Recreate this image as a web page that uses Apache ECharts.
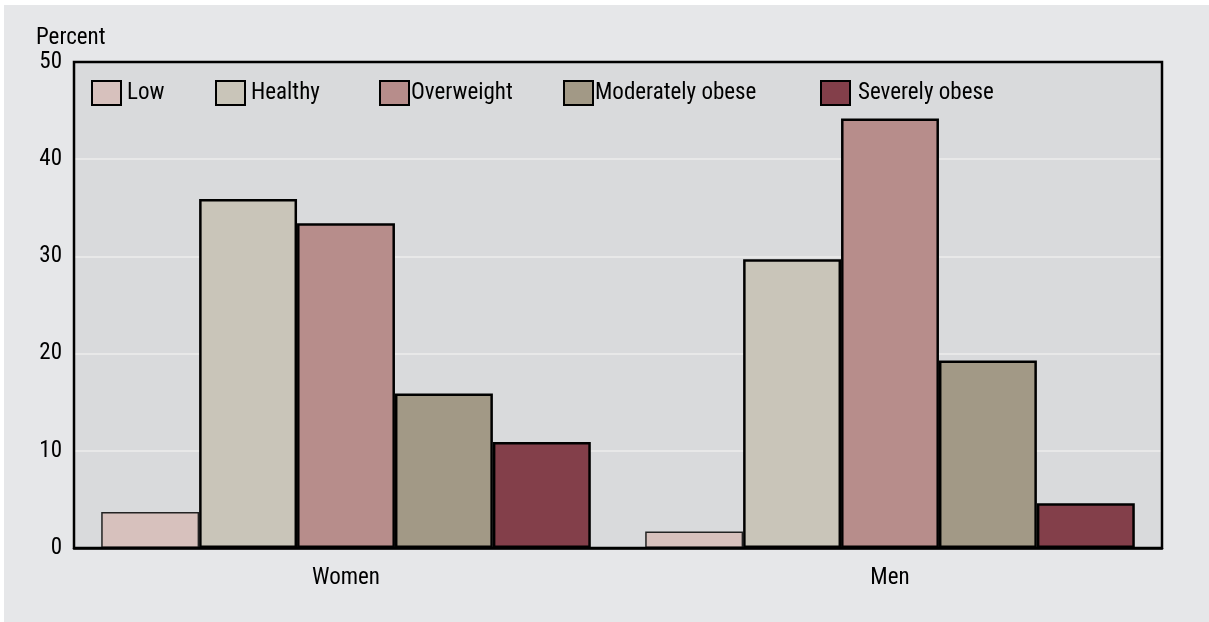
<!DOCTYPE html>
<html>
<head>
<meta charset="utf-8">
<script src="https://cdn.jsdelivr.net/npm/echarts@6/dist/echarts.min.js"></script>
<style>
html,body{margin:0;padding:0;background:#ffffff;}
#c{position:absolute;left:4px;top:5px;width:1205px;height:617px;background:#e6e7e9;}
</style>
</head>
<body>
<div id="c"></div>
<script>
const categories = ['Women', 'Men'];
const seriesNames = ['Low', 'Healthy', 'Overweight', 'Moderately obese', 'Severely obese'];
const low = [3.7, 1.7];
const healthy = [35.9, 29.7];
const overweight = [33.4, 44.2];
const moderatelyObese = [15.9, 19.3];
const severelyObese = [10.9, 4.6];
const yTicks = [0, 10, 20, 30, 40, 50];

const values = [low, healthy, overweight, moderatelyObese, severelyObese];
const colors = ['#d7c1bd', '#c9c5b9', '#b78d8b', '#a29986', '#833f4a'];
const legendLeft = [87, 211, 375, 559, 816];
const legendTextPad = [1, 1, -3, -3, 3];
const FONT = "'Liberation Sans Narrow','Roboto Condensed','Liberation Sans',sans-serif";
const G = {left: 70, right: 47, top: 57, bottom: 74};
const W = 1205, H = 617;

const chart = echarts.init(document.getElementById('c'), null, {renderer: 'canvas'});
const legends = seriesNames.map((n, i) => ({
  data: [n],
  left: legendLeft[i],
  top: 75,
  padding: 0,
  icon: 'rect',
  itemWidth: 29,
  itemHeight: 24,
  itemGap: 6,
  textStyle: {fontFamily: FONT, fontSize: 23, color: '#000', padding: [0, 0, 0, legendTextPad[i]]},
  itemStyle: {borderColor: '#000', borderWidth: 2}
}));
chart.setOption({
  backgroundColor: '#e6e7e9',
  animation: false,
  textStyle: {fontFamily: FONT},
  legend: legends,
  grid: {left: G.left, right: G.right, top: G.top, bottom: G.bottom, show: true, backgroundColor: '#d9dadc', borderColor: '#000', borderWidth: 0},
  xAxis: {
    type: 'category', data: categories,
    axisLine: {show: true, lineStyle: {color: '#000', width: 2.5}},
    axisTick: {show: false},
    axisLabel: {fontFamily: FONT, fontSize: 23, color: '#000', margin: 19}
  },
  yAxis: {
    type: 'value', min: yTicks[0], max: yTicks[yTicks.length - 1], interval: 10,
    axisLine: {show: false}, axisTick: {show: false},
    axisLabel: {fontFamily: FONT, fontSize: 23, color: '#000', margin: 12},
    splitLine: {show: true, lineStyle: {color: '#ececed', width: 1.5}}
  },
  graphic: [
    {type: 'text', left: 32, top: 22, style: {text: 'Percent', font: "23px " + FONT, fill: '#000'}},
    {type: 'rect', z: 100, silent: true,
     shape: {x: G.left, y: G.top, width: W - G.left - G.right, height: H - G.top - G.bottom},
     style: {fill: null, stroke: '#000', lineWidth: 2.5}}
  ],
  series: seriesNames.map((n, i) => ({
    name: n, type: 'bar', data: values[i],
    barGap: '0%', barCategoryGap: '10%',
    itemStyle: {color: colors[i], borderColor: i === 0 ? '#222' : '#000', borderWidth: i === 0 ? 1.5 : 2.5}
  }))
});
</script>
</body>
</html>
